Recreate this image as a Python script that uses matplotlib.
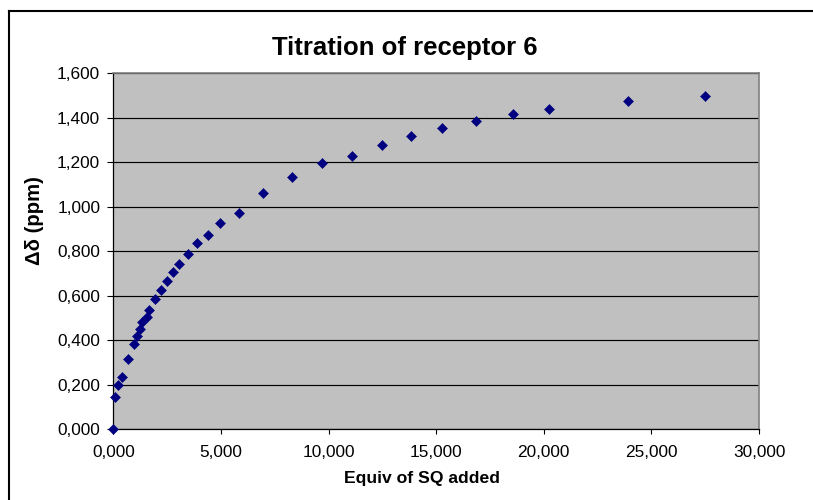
import matplotlib
matplotlib.use("Agg")
import matplotlib.pyplot as plt
from matplotlib.lines import Line2D
from matplotlib.ticker import FuncFormatter, MultipleLocator

plt.rcParams['font.family'] = ['Liberation Sans', 'DejaVu Sans']

# equivalents of SQ added vs chemical shift change
equiv = [0.00, 0.09, 0.23, 0.42, 0.68, 0.98, 1.12, 1.22, 1.35, 1.55, 1.66,
         1.92, 2.21, 2.48, 2.77, 3.04, 3.46, 3.90, 4.39, 4.97, 5.86, 6.94,
         8.30, 9.68, 11.11, 12.47, 13.83, 15.26, 16.87, 18.56, 20.25, 23.90,
         27.51]
delta_ppm = [0.000, 0.144, 0.200, 0.234, 0.316, 0.385, 0.420, 0.453, 0.481,
             0.505, 0.535, 0.585, 0.628, 0.667, 0.706, 0.745, 0.788, 0.839,
             0.872, 0.928, 0.971, 1.064, 1.136, 1.196, 1.230, 1.278, 1.318,
             1.356, 1.385, 1.418, 1.439, 1.477, 1.500]

title = "Titration of receptor 6"
xlabel = "Equiv of SQ added"
ylabel = "Δδ (ppm)"

W, H = 813, 500
fig = plt.figure(figsize=(W / 100, H / 100), dpi=100)

# plot area in pixels: left 113, right 759, top 73, bottom 429
ax = fig.add_axes([113.3 / W, 1 - 429.4 / H, (759 - 113.3) / W, (429.4 - 73.4) / H])
ax.set_facecolor('#C0C0C0')

ax.plot(equiv, delta_ppm, linestyle='none', marker='D', markersize=4.9,
        color='#000080', markeredgewidth=0.4, zorder=3, clip_on=False)

ax.set_xlim(0, 30)
ax.set_ylim(0, 1.6)
ax.xaxis.set_major_locator(MultipleLocator(5))
ax.yaxis.set_major_locator(MultipleLocator(0.2))
comma = FuncFormatter(lambda v, pos: f"{v:.3f}".replace('.', ','))
ax.xaxis.set_major_formatter(comma)
ax.yaxis.set_major_formatter(comma)

ax.grid(axis='y', color='black', linewidth=0.85)
ax.set_axisbelow(True)

for side in ('left', 'bottom'):
    ax.spines[side].set_color('black')
    ax.spines[side].set_linewidth(0.9)
for side in ('top', 'right'):
    ax.spines[side].set_color('#808080')
    ax.spines[side].set_linewidth(1.2)

ax.tick_params(axis='y', direction='out', length=4.4, width=0.8, pad=5,
               labelsize=12.4, colors='black')
ax.tick_params(axis='x', direction='out', length=3.4, width=0.8, pad=8,
               labelsize=12.4, colors='black')

fig.text(405 / W, 1 - 48 / H, title, ha='center', va='center',
         fontsize=18.5, fontweight='bold')
fig.text(421.7 / W, 1 - 478 / H, xlabel, ha='center', va='center',
         fontsize=12.6, fontweight='bold')
fig.text(35 / W, 1 - 221 / H, ylabel, ha='center', va='center',
         rotation=90, fontsize=14.6, fontweight='bold')

# chart area border (only left and top edges fall inside the image)
fig.add_artist(Line2D([9 / W, 9 / W], [0, 1 - 11 / H], color='black',
                      linewidth=1.5, transform=fig.transFigure))
fig.add_artist(Line2D([9 / W, 1], [1 - 11 / H, 1 - 11 / H], color='black',
                      linewidth=1.5, transform=fig.transFigure))

fig.savefig("out.png", dpi=100)
